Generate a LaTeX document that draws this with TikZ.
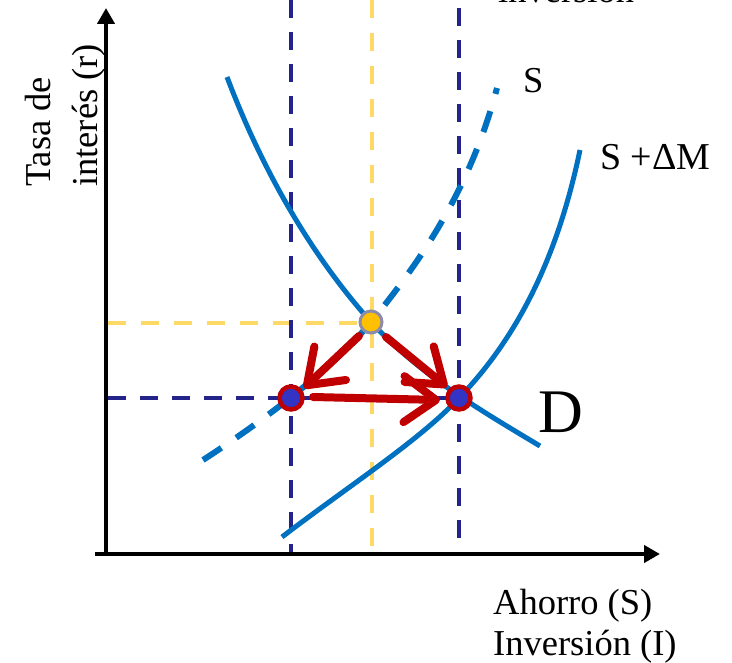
\documentclass[tikz,border=0pt]{standalone}
\usepackage{fontspec}
\setmainfont{Liberation Serif}
\usetikzlibrary{arrows.meta}
\definecolor{navy}{HTML}{23238A}
\definecolor{yel}{HTML}{FFD966}
\definecolor{cblue}{HTML}{0070C0}
\definecolor{cred}{HTML}{C00000}
\definecolor{pblue}{HTML}{3333C4}
\definecolor{pyel}{HTML}{FFC000}
\definecolor{pgray}{HTML}{8C8CA8}
\tikzset{
  axis/.style={line width=4pt, -{Triangle[length=16pt,width=17pt]}},
  navyline/.style={navy, line width=4pt, dash pattern=on 18pt off 14pt},
  yelline/.style={yel, line width=4pt, dash pattern=on 18pt off 15pt},
  curve/.style={cblue, line width=5pt},
  dcurve/.style={cblue, line width=6pt, dash pattern=on 22pt off 18pt},
  redarrow/.style={cred, line width=8pt, line cap=round, -{Straight Barb[length=32pt,width=46pt,line width=8pt,round]}},
  bluept/.style={circle, fill=pblue, draw=cred, line width=4.5pt, minimum size=23pt, inner sep=0pt},
  yelpt/.style={circle, fill=pyel, draw=pgray, line width=3pt, minimum size=22pt, inner sep=0pt},
  lbl/.style={font=\fontsize{36.5}{44}\selectfont, inner sep=0pt, anchor=base west},
}
\begin{document}
\begin{tikzpicture}[x=1pt,y=-1pt]
\useasboundingbox (0,0) rectangle (732,663);
% coordinates
\coordinate (yb) at (106,555);
\coordinate (yt) at (106,8);
\coordinate (xl) at (95,554);
\coordinate (xr) at (660,554);
\coordinate (v1t) at (291,0);
\coordinate (v1b) at (291,555);
\coordinate (v2t) at (459,8);
\coordinate (v2b) at (459,555);
\coordinate (ylt) at (372,0);
\coordinate (ylb) at (372,555);
\coordinate (hyl) at (108,323);
\coordinate (hyr) at (360,323);
\coordinate (hnl) at (108,398);
\coordinate (hnr) at (459,398);
% dashed guides
\draw[yelline] (ylt) -- (ylb);
\draw[yelline] (hyl) -- (hyr);
\draw[navyline] (v1t) -- (v1b);
\draw[navyline] (v2t) -- (v2b);
\draw[navyline] (hnl) -- (hnr);
% curves
\draw[curve] (227,77) .. controls (268,185) and (320,265) .. (371,322) .. controls (420,375) and (480,410) .. (540,446);
\draw[dcurve] (203,460) .. controls (280,410) and (340,360) .. (371,322) .. controls (420,262) and (470,190) .. (497,88);
\draw[curve] (282,537) .. controls (350,485) and (420,440) .. (459,398) .. controls (510,345) and (555,270) .. (580,150);
% axes
\draw[axis] (yb) -- (yt);
\draw[axis] (xl) -- (xr);
% points
\node[yelpt] (E) at (371,322) {};
\node[bluept] (A) at (291,398) {};
\node[bluept] (B) at (459,398) {};
% red arrows
\coordinate (e1) at (359,336);
\coordinate (e2) at (386,337);
\coordinate (a1) at (313,397);
\coordinate (t1) at (304,388);
\coordinate (t2) at (447,387);
\coordinate (t3) at (440,400);
\draw[redarrow] (e1) -- (t1);
\draw[redarrow] (e2) -- (t2);
\draw[redarrow] (a1) -- (t3);
% labels
\node[lbl] (tS) at (523,93) {S};
\node[lbl, font=\fontsize{38}{44}\selectfont] (tSM) at (600,170) {S +ΔM};
\node[inner sep=0pt, anchor=base west, font=\fontsize{62}{70}\selectfont] (tD) at (538,433) {D};
\node[lbl] (tA) at (493,614) {Ahorro (S)};
\node[lbl] (tI) at (493,655) {Inversión (I)};
\node[lbl] (tinv) at (498,3) {inversión};
\node[lbl, rotate=90] (tT) at (50,187) {Tasa de};
\node[lbl, rotate=90] (tR) at (97,187) {interés (r)};
\end{tikzpicture}
\end{document}
